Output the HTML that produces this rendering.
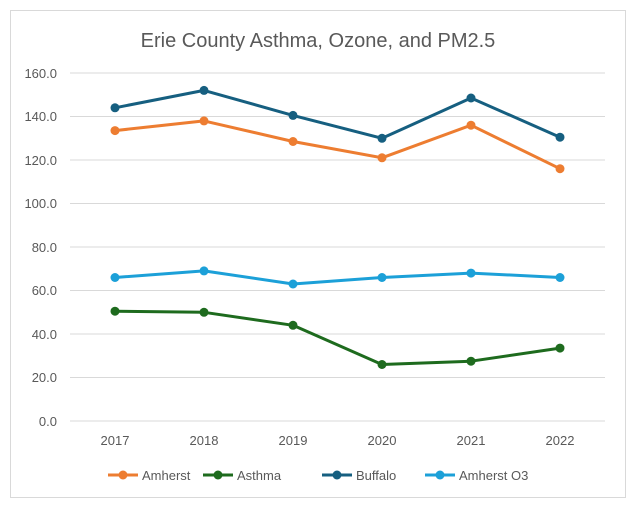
<!DOCTYPE html>
<html><head><meta charset="utf-8"><style>
body{margin:0;background:#fff;}
svg{display:block;font-family:"Liberation Sans",sans-serif;}
</style></head><body>
<svg width="636" height="508" xmlns="http://www.w3.org/2000/svg">
<rect x="10.5" y="10.5" width="615" height="487" fill="#fff" stroke="#d9d9d9"/>
<text x="318" y="47" font-size="20" fill="#595959" text-anchor="middle">Erie County Asthma, Ozone, and PM2.5</text>
<g stroke="#d9d9d9" stroke-width="1">
<line x1="70" x2="605" y1="73" y2="73"/><line x1="70" x2="605" y1="116.5" y2="116.5"/>
<line x1="70" x2="605" y1="160" y2="160"/><line x1="70" x2="605" y1="203.5" y2="203.5"/>
<line x1="70" x2="605" y1="247" y2="247"/><line x1="70" x2="605" y1="290.5" y2="290.5"/>
<line x1="70" x2="605" y1="334" y2="334"/><line x1="70" x2="605" y1="377.5" y2="377.5"/>
<line x1="70" x2="605" y1="421" y2="421"/>
</g>
<g font-size="13" fill="#595959" text-anchor="end">
<text x="57" y="78">160.0</text><text x="57" y="121">140.0</text><text x="57" y="165">120.0</text>
<text x="57" y="208">100.0</text><text x="57" y="252">80.0</text><text x="57" y="295">60.0</text>
<text x="57" y="339">40.0</text><text x="57" y="382">20.0</text><text x="57" y="426">0.0</text>
</g>
<g font-size="13" fill="#595959" text-anchor="middle">
<text x="115" y="445">2017</text><text x="204" y="445">2018</text><text x="293" y="445">2019</text>
<text x="382" y="445">2020</text><text x="471" y="445">2021</text><text x="560" y="445">2022</text>
</g>
<g fill="none" stroke-width="3" stroke-linejoin="round">
<polyline stroke="#ed7d31" points="115,130.6 204,120.9 293,141.5 382,157.8 471,125.2 560,168.7"/>
<polyline stroke="#1e6b1e" points="115,311.2 204,312.3 293,325.3 382,364.5 471,361.2 560,348.1"/>
<polyline stroke="#165f80" points="115,107.8 204,90.4 293,115.4 382,138.3 471,98 560,137.2"/>
<polyline stroke="#1ca0d8" points="115,277.5 204,270.9 293,284 382,277.5 471,273.1 560,277.5"/>
</g>
<g fill="#ed7d31"><circle cx="115" cy="130.6" r="4.5"/><circle cx="204" cy="120.9" r="4.5"/><circle cx="293" cy="141.5" r="4.5"/><circle cx="382" cy="157.8" r="4.5"/><circle cx="471" cy="125.2" r="4.5"/><circle cx="560" cy="168.7" r="4.5"/></g>
<g fill="#1e6b1e"><circle cx="115" cy="311.2" r="4.5"/><circle cx="204" cy="312.3" r="4.5"/><circle cx="293" cy="325.3" r="4.5"/><circle cx="382" cy="364.5" r="4.5"/><circle cx="471" cy="361.2" r="4.5"/><circle cx="560" cy="348.1" r="4.5"/></g>
<g fill="#165f80"><circle cx="115" cy="107.8" r="4.5"/><circle cx="204" cy="90.4" r="4.5"/><circle cx="293" cy="115.4" r="4.5"/><circle cx="382" cy="138.3" r="4.5"/><circle cx="471" cy="98" r="4.5"/><circle cx="560" cy="137.2" r="4.5"/></g>
<g fill="#1ca0d8"><circle cx="115" cy="277.5" r="4.5"/><circle cx="204" cy="270.9" r="4.5"/><circle cx="293" cy="284" r="4.5"/><circle cx="382" cy="277.5" r="4.5"/><circle cx="471" cy="273.1" r="4.5"/><circle cx="560" cy="277.5" r="4.5"/></g>
<g font-size="13" fill="#595959" stroke-width="3">
<line x1="108" x2="138" y1="475" y2="475" stroke="#ed7d31"/><circle cx="123" cy="475" r="4.5" fill="#ed7d31"/><text x="142" y="480">Amherst</text>
<line x1="203" x2="233" y1="475" y2="475" stroke="#1e6b1e"/><circle cx="218" cy="475" r="4.5" fill="#1e6b1e"/><text x="237" y="480">Asthma</text>
<line x1="322" x2="352" y1="475" y2="475" stroke="#165f80"/><circle cx="337" cy="475" r="4.5" fill="#165f80"/><text x="356" y="480">Buffalo</text>
<line x1="425" x2="455" y1="475" y2="475" stroke="#1ca0d8"/><circle cx="440" cy="475" r="4.5" fill="#1ca0d8"/><text x="459" y="480">Amherst O3</text>
</g>
</svg>
</body></html>
